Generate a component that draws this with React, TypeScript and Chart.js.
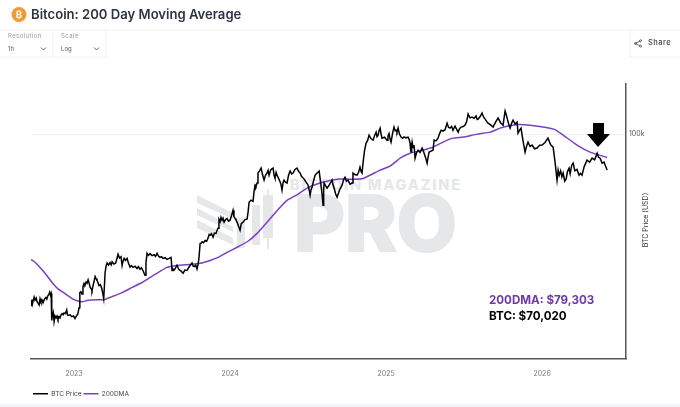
import React, { useEffect, useRef } from 'react';
import { Chart, registerables } from 'chart.js';

Chart.register(...registerables);

// [decimal year, USD]
const btcPrice: [number, number][] = [
  [2022.724, 18300], [2022.729, 19400], [2022.733, 18600], [2022.737, 19100], [2022.744, 19900], [2022.75, 19300], [2022.757, 19700], [2022.763, 19000], [2022.77, 18700], [2022.776, 18400],
  [2022.782, 19600], [2022.788, 19000], [2022.795, 19300], [2022.801, 18800], [2022.81, 19500], [2022.819, 19800], [2022.825, 19500], [2022.831, 20100], [2022.838, 20400], [2022.844, 20900], [2022.849, 20300], [2022.853, 20600],
  [2022.857, 15800], [2022.861, 16900], [2022.865, 16300], [2022.868, 16800], [2022.872, 15600], [2022.878, 16500], [2022.885, 16200], [2022.891, 16500], [2022.897, 16000], [2022.904, 16400], [2022.91, 16200],
  [2022.917, 16700], [2022.923, 16900], [2022.93, 16700], [2022.936, 17000], [2022.945, 16900], [2022.953, 17500], [2022.958, 16700], [2022.962, 16600], [2022.975, 16700], [2022.985, 16400], [2022.996, 16500], [2023.006, 16100], [2023.015, 16500],
  [2023.024, 16800], [2023.032, 17900], [2023.037, 20800], [2023.044, 21000], [2023.051, 20500], [2023.057, 22000], [2023.064, 22800], [2023.07, 22500], [2023.077, 23100], [2023.083, 22800],
  [2023.09, 23600], [2023.097, 22800], [2023.103, 21900], [2023.109, 21700], [2023.115, 21200], [2023.125, 22800], [2023.135, 24400], [2023.141, 23900], [2023.147, 23500], [2023.153, 23000], [2023.16, 22300], [2023.169, 22500],
  [2023.178, 21600], [2023.185, 20500], [2023.19, 19600], [2023.195, 22500], [2023.199, 25400], [2023.205, 27000], [2023.212, 27900], [2023.221, 27300], [2023.231, 28000], [2023.238, 27400], [2023.244, 28200], [2023.255, 27600],
  [2023.267, 27900], [2023.274, 29000], [2023.282, 30400], [2023.291, 29300], [2023.301, 29700], [2023.308, 27200], [2023.314, 28400], [2023.321, 29200], [2023.33, 28600], [2023.34, 29200], [2023.349, 27800],
  [2023.359, 26800], [2023.368, 27200], [2023.378, 26700], [2023.391, 27000], [2023.404, 26400], [2023.413, 26900], [2023.423, 26200], [2023.432, 26600], [2023.442, 25900], [2023.449, 25200], [2023.455, 24700],
  [2023.461, 28000], [2023.468, 30700], [2023.477, 30100], [2023.487, 30600], [2023.5, 30000], [2023.513, 30300], [2023.522, 29800], [2023.532, 30700], [2023.541, 29900], [2023.551, 29500], [2023.561, 29700], [2023.571, 29200],
  [2023.583, 29400], [2023.596, 28900], [2023.61, 29200], [2023.622, 29500], [2023.628, 25900], [2023.634, 26300], [2023.641, 26000], [2023.65, 26500], [2023.66, 27300], [2023.667, 26600], [2023.673, 26100], [2023.685, 25800],
  [2023.699, 25200], [2023.71, 26000], [2023.724, 25900], [2023.74, 27000], [2023.756, 27900], [2023.763, 27100], [2023.77, 26900], [2023.78, 27300], [2023.788, 26300], [2023.795, 27500], [2023.801, 29500],
  [2023.808, 33800], [2023.814, 33900], [2023.821, 34400], [2023.83, 34100], [2023.84, 34900], [2023.85, 34600], [2023.859, 35700], [2023.866, 37000], [2023.872, 36700], [2023.881, 37300], [2023.891, 36000], [2023.9, 37500],
  [2023.91, 37400], [2023.917, 38600], [2023.923, 39400], [2023.929, 43000], [2023.936, 42000], [2023.942, 43800], [2023.949, 42600], [2023.955, 43500], [2023.962, 41800], [2023.971, 42800], [2023.981, 43400], [2023.99, 42200],
  [2024.0, 42600], [2024.01, 44800], [2024.019, 47000], [2024.025, 44200], [2024.032, 43400], [2024.038, 42700], [2024.045, 41800], [2024.055, 40000], [2024.064, 38600], [2024.072, 41200], [2024.083, 41800], [2024.096, 42900],
  [2024.109, 43100], [2024.116, 46500], [2024.122, 50900], [2024.134, 52000], [2024.147, 51400], [2024.153, 56000], [2024.16, 60300], [2024.166, 59500], [2024.173, 61600], [2024.179, 68000], [2024.189, 69500],
  [2024.199, 71400], [2024.208, 67000], [2024.218, 63400], [2024.227, 66500], [2024.237, 68000], [2024.244, 69800], [2024.25, 66600], [2024.26, 70000], [2024.269, 71000], [2024.276, 71400],
  [2024.282, 66500], [2024.288, 64700], [2024.295, 68400], [2024.301, 66600], [2024.311, 64500], [2024.321, 62200], [2024.327, 60500], [2024.333, 57400], [2024.34, 61800], [2024.346, 63400], [2024.355, 62100], [2024.365, 61600],
  [2024.375, 66500], [2024.385, 69300], [2024.395, 67400], [2024.404, 68000], [2024.416, 70500], [2024.429, 71400], [2024.439, 69200], [2024.449, 68000], [2024.458, 65800], [2024.468, 64700], [2024.477, 63800], [2024.487, 62200],
  [2024.494, 61200], [2024.5, 60300], [2024.507, 57500], [2024.513, 54600], [2024.52, 58000], [2024.526, 59200], [2024.536, 63200], [2024.545, 66600], [2024.558, 68000], [2024.571, 69300], [2024.577, 64500], [2024.583, 60300],
  [2024.59, 55000], [2024.596, 49400], [2024.6, 58000], [2024.603, 61600], [2024.612, 60000], [2024.622, 58600], [2024.638, 60800], [2024.654, 63400], [2024.66, 60500], [2024.667, 58600], [2024.676, 55500], [2024.686, 53500],
  [2024.702, 57500], [2024.718, 60300], [2024.728, 63800], [2024.737, 65300], [2024.746, 62800], [2024.756, 63400], [2024.769, 60900], [2024.782, 61600], [2024.788, 68000], [2024.8, 67000], [2024.814, 66600], [2024.824, 68500],
  [2024.833, 72100], [2024.84, 69000], [2024.846, 68000], [2024.853, 75800], [2024.862, 85000], [2024.872, 91500], [2024.882, 94000], [2024.891, 99000], [2024.904, 95500], [2024.917, 94200], [2024.926, 98500],
  [2024.936, 102000], [2024.942, 97500], [2024.949, 99000], [2024.955, 103500], [2024.962, 106100], [2024.968, 100000], [2024.974, 96100], [2024.99, 97000], [2025.006, 94200], [2025.012, 98000], [2025.019, 100500],
  [2025.026, 95000], [2025.032, 92400], [2025.042, 101000], [2025.051, 107200], [2025.058, 103500], [2025.064, 104000], [2025.07, 102000], [2025.077, 106100], [2025.086, 100000], [2025.096, 97100], [2025.105, 96000], [2025.115, 97300],
  [2025.128, 96400], [2025.141, 97100], [2025.148, 95000], [2025.154, 91500], [2025.157, 86000], [2025.16, 83700], [2025.164, 89000], [2025.167, 92400], [2025.173, 87500], [2025.179, 89700], [2025.183, 84000], [2025.186, 78800],
  [2025.195, 83000], [2025.205, 85300], [2025.218, 83500], [2025.231, 87100], [2025.238, 85000], [2025.244, 82800], [2025.254, 79000], [2025.263, 75000], [2025.27, 80000], [2025.276, 83700], [2025.288, 84500], [2025.301, 85300],
  [2025.308, 94200], [2025.32, 93500], [2025.333, 96100], [2025.343, 100500], [2025.353, 104000], [2025.365, 103000], [2025.378, 104500], [2025.385, 108000], [2025.391, 111500], [2025.4, 107000], [2025.41, 106100],
  [2025.42, 108000], [2025.429, 104000], [2025.436, 106500], [2025.442, 108300], [2025.452, 105000], [2025.462, 102000], [2025.471, 105500], [2025.481, 107200], [2025.494, 107800], [2025.506, 109300], [2025.516, 113000], [2025.526, 122000],
  [2025.538, 117500], [2025.551, 118400], [2025.564, 117000], [2025.577, 119600], [2025.584, 115500], [2025.59, 116000], [2025.603, 119000], [2025.615, 123200], [2025.625, 118500], [2025.635, 116000], [2025.645, 113500], [2025.654, 111500],
  [2025.67, 109500], [2025.686, 107200], [2025.702, 112500], [2025.718, 117200], [2025.734, 112000], [2025.75, 109300], [2025.757, 118000], [2025.763, 125700], [2025.77, 121500], [2025.776, 117200], [2025.786, 110500], [2025.795, 106100],
  [2025.805, 111500], [2025.814, 114900], [2025.827, 110500], [2025.84, 112700], [2025.846, 101000], [2025.856, 104000], [2025.865, 106100], [2025.878, 93500], [2025.891, 83700], [2025.9, 88500], [2025.91, 92400],
  [2025.923, 88500], [2025.936, 89700], [2025.952, 86500], [2025.968, 87100], [2025.984, 89500], [2026.0, 89700], [2026.019, 92000], [2026.038, 96100], [2026.055, 90000], [2026.071, 87900], [2026.084, 75000], [2026.096, 63400],
  [2026.103, 70000], [2026.11, 66500], [2026.119, 69500], [2026.127, 65500], [2026.135, 68000], [2026.145, 62800], [2026.154, 64000], [2026.163, 69000], [2026.173, 71400], [2026.18, 67500], [2026.19, 73500], [2026.199, 75000], [2026.21, 69500], [2026.224, 70500], [2026.237, 66600],
  [2026.246, 67800], [2026.256, 66600], [2026.27, 72500], [2026.288, 77300], [2026.305, 75800], [2026.321, 78800], [2026.337, 77500], [2026.353, 82800], [2026.362, 79500], [2026.372, 78800], [2026.385, 75000], [2026.397, 75800], [2026.408, 72500],
  [2026.417, 70020],
];

const dma200: [number, number][] = [
  [2022.724, 28900], [2022.75, 28100], [2022.782, 26700], [2022.814, 25200], [2022.859, 23000], [2022.897, 21600],
  [2022.942, 20600], [2022.987, 19600], [2023.019, 19200], [2023.051, 19000], [2023.09, 19300], [2023.147, 19400],
  [2023.192, 19400], [2023.244, 20000], [2023.308, 20800], [2023.372, 21900], [2023.436, 23000], [2023.519, 24900],
  [2023.596, 26700], [2023.66, 27200], [2023.744, 27500], [2023.808, 27800], [2023.872, 28600], [2023.923, 29500],
  [2023.981, 31000], [2024.045, 32600], [2024.115, 34600], [2024.173, 37400], [2024.237, 41800], [2024.314, 47900],
  [2024.365, 51900], [2024.429, 54800], [2024.494, 58600], [2024.577, 61600], [2024.686, 64000], [2024.788, 63900],
  [2024.853, 64400], [2024.962, 70000], [2025.026, 72800], [2025.09, 78800], [2025.154, 82800], [2025.237, 85300],
  [2025.301, 87900], [2025.365, 92400], [2025.429, 96100], [2025.494, 97100], [2025.583, 100000], [2025.667, 102000],
  [2025.731, 106100], [2025.782, 108300], [2025.846, 110000], [2025.923, 109300], [2026.006, 107200], [2026.083, 104500],
  [2026.135, 99000], [2026.224, 89700], [2026.308, 83700], [2026.417, 79303],
];

const xTickYears = [2023, 2024, 2025, 2026];
const yTickValues = [100000];
const FONT = 'Inter, "Noto Sans", sans-serif';

const App = () => {
  const chartRef = useRef<HTMLCanvasElement>(null);

  useEffect(() => {
    if (!chartRef.current) return;
    const chart = new Chart(chartRef.current, {
      type: 'line',
      data: {
        datasets: [
          {
            label: 'BTC Price',
            data: btcPrice.map(([x, y]) => ({ x, y })),
            borderColor: '#000000',
            backgroundColor: '#000000',
            borderWidth: 1.5,
            pointRadius: 0,
            tension: 0,
          },
          {
            label: '200DMA',
            data: dma200.map(([x, y]) => ({ x, y })),
            borderColor: '#7b3fc4',
            backgroundColor: '#7b3fc4',
            borderWidth: 1.5,
            pointRadius: 0,
            tension: 0.12,
          },
        ],
      },
      options: {
        animation: false,
        responsive: false,
        devicePixelRatio: 1,
        layout: { padding: { top: 84, left: 31, right: 0, bottom: 0 } },
        plugins: {
          tooltip: { enabled: false },
          legend: {
            position: 'bottom',
            align: 'start',
            labels: {
              boxWidth: 15,
              boxHeight: 0,
              padding: 2,
              color: '#444',
              font: { family: FONT, size: 6.5 },
            },
          },
        },
        scales: {
          x: {
            type: 'linear',
            min: 2022.724,
            max: 2026.538,
            afterBuildTicks: (scale) => {
              scale.ticks = xTickYears.map((value) => ({ value }));
            },
            afterFit: (scale) => {
              scale.height = 30;
            },
            grid: { display: false },
            border: { color: '#555', width: 1.5 },
            ticks: {
              autoSkip: false,
              maxRotation: 0,
              padding: 3,
              color: '#777',
              font: { family: FONT, size: 7 },
              callback: (v) => String(v),
            },
          },
          y: {
            type: 'logarithmic',
            position: 'right',
            min: 10830,
            max: 164300,
            afterBuildTicks: (scale) => {
              scale.ticks = yTickValues.map((value) => ({ value }));
            },
            afterFit: (scale) => {
              scale.width = 54;
            },
            grid: { color: '#f1f1f1', drawTicks: false },
            border: { color: '#555', width: 1.5 },
            ticks: {
              padding: 3,
              color: '#555',
              font: { family: FONT, size: 7 },
              callback: (v) => `${Number(v) / 1000}k`,
            },
          },
        },
      },
    });
    return () => chart.destroy();
  }, []);

  const label: React.CSSProperties = { position: 'absolute', fontFamily: FONT, whiteSpace: 'nowrap' };
  const chevron = (x: number) => (
    <polyline points={`${x},47.5 ${x + 2.5},50 ${x + 5},47.5`} fill="none" stroke="#555" strokeWidth="0.9" />
  );

  return (
    <div style={{ position: 'absolute', left: 0, top: 0, width: 680, height: 407, background: '#fff', overflow: 'hidden' }}>
      {/* watermark sits behind the transparent canvas */}
      <svg width="680" height="407" style={{ position: 'absolute', left: 0, top: 0 }}>
        <g fill="#e6e7e9" stroke="#e6e7e9">
          <polygon points="197,195 233,213 233,219 197,203" strokeWidth="0" />
          <polygon points="197,208 233,227 233,232 197,215" strokeWidth="0" />
          <polygon points="197,220 233,238 233,245 197,228" strokeWidth="0" />
          <rect x="237" y="218" width="8" height="30" strokeWidth="0" />
          <rect x="252" y="205" width="8" height="40" strokeWidth="0" />
          <rect x="263" y="195" width="10" height="43" strokeWidth="0" />
          <rect x="267" y="189" width="2" height="60" strokeWidth="0" />
          <text x="290" y="190" fontFamily="Inter" fontWeight="800" fontSize="14.5" textLength="170" strokeWidth="0">BITCOIN MAGAZINE</text>
          <text x="294" y="251" fontFamily="Inter" fontWeight="800" fontSize="77" textLength="163" lengthAdjust="spacingAndGlyphs" strokeWidth="2">PRO</text>
        </g>
      </svg>

      <canvas ref={chartRef} width={680} height={407} style={{ position: 'absolute', left: 0, top: 0 }} />

      {/* page chrome */}
      <svg width="680" height="407" style={{ position: 'absolute', left: 0, top: 0 }}>
        <circle cx="19" cy="14.5" r="7.5" fill="#f09a3a" />
        <text x="19" y="17.5" textAnchor="middle" fontFamily={FONT} fontWeight="700" fontSize="9" fill="#fff">₿</text>
        <line x1="0" y1="30" x2="680" y2="30" stroke="#f0f0f0" />
        <polyline points="0,57 53,57 53,30" fill="none" stroke="#f0f0f0" />
        <polyline points="53,57 106,57 106,30" fill="none" stroke="#f0f0f0" />
        <polyline points="680,57 630,57 630,30" fill="none" stroke="#f0f0f0" />
        {chevron(41)}
        {chevron(94)}
        <g fill="none" stroke="#444" strokeWidth="0.8">
          <line x1="635.5" y1="43.5" x2="640" y2="41" />
          <line x1="635.5" y1="43.5" x2="640" y2="46" />
          <circle cx="635.5" cy="43.5" r="1" />
          <circle cx="640.5" cy="40.8" r="1" />
          <circle cx="640.5" cy="46.2" r="1" />
        </g>
        <rect x="0" y="404" width="680" height="3" fill="#f3f4f6" />
        <polygon points="593,123 604,123 604,134 610,134 598,147 587,134 593,134" fill="#000" />
      </svg>

      <div style={{ ...label, left: 31, top: 4, fontSize: 13.1, lineHeight: '20px', fontWeight: 600, color: '#2d3340' }}>
        Bitcoin: 200 Day Moving Average
      </div>
      <div style={{ ...label, left: 8, top: 32, fontSize: 6, color: '#999', letterSpacing: 0.4 }}>Resolution</div>
      <div style={{ ...label, left: 8, top: 45, fontSize: 6, color: '#555' }}>1h</div>
      <div style={{ ...label, left: 61, top: 32, fontSize: 6, color: '#999', letterSpacing: 0.4 }}>Scale</div>
      <div style={{ ...label, left: 61, top: 45, fontSize: 6, color: '#555' }}>Log</div>
      <div style={{ ...label, left: 648, top: 38, fontSize: 7.5, fontWeight: 500, color: '#444', letterSpacing: 0.5 }}>Share</div>
      <div style={{ ...label, left: 489, top: 292, fontSize: 11.6, lineHeight: '16px', fontWeight: 700, color: '#6f3aa6' }}>200DMA: $79,303</div>
      <div style={{ ...label, left: 489, top: 308, fontSize: 11.6, lineHeight: '16px', fontWeight: 700, color: '#000' }}>BTC: $70,020</div>
      <div
        style={{
          ...label,
          left: 645,
          top: 220,
          fontSize: 7,
          color: '#333',
          transform: 'translate(-50%, -50%) rotate(-90deg)',
        }}
      >
        BTC Price (USD)
      </div>
    </div>
  );
};

export default App;
